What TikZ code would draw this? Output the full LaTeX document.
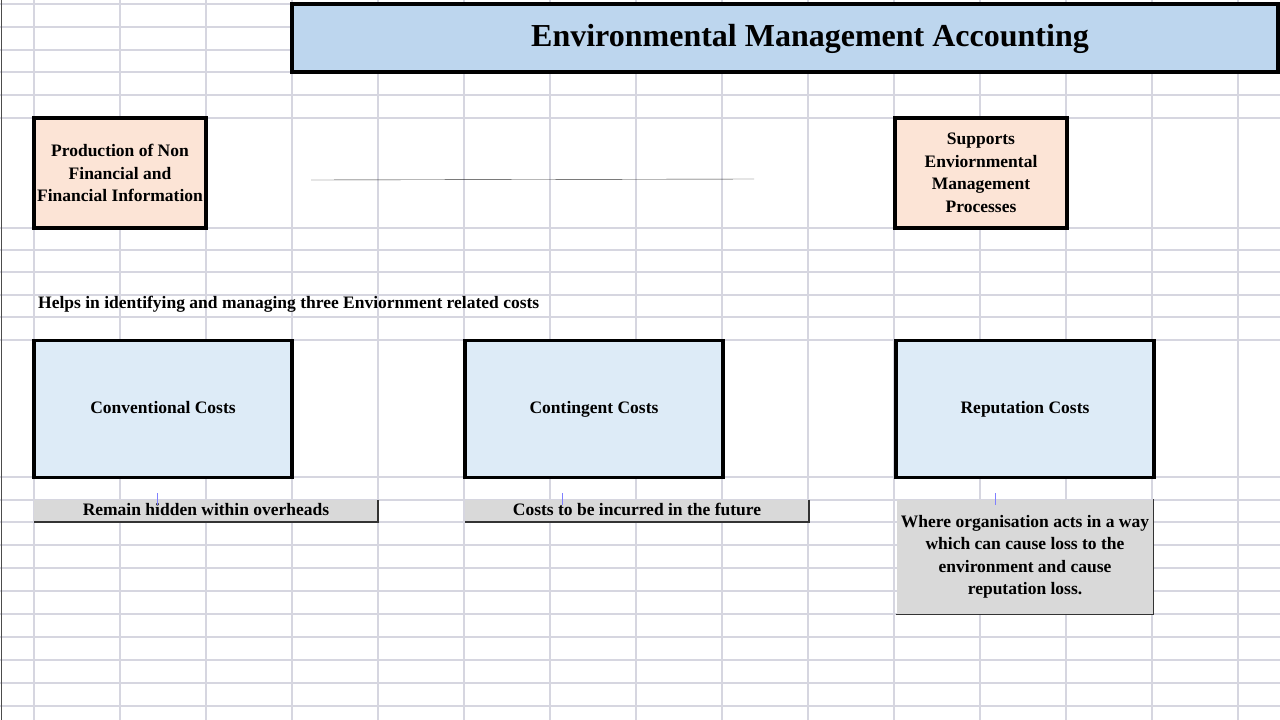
\documentclass[tikz,border=0pt]{standalone}
\usepackage{fontspec}
\setmainfont{Liberation Serif}
\usetikzlibrary{calc}
\definecolor{titleBlue}{RGB}{189,214,238}
\definecolor{costBlue}{RGB}{221,235,247}
\definecolor{rolePink}{RGB}{252,228,214}
\definecolor{noteGrey}{RGB}{217,217,217}
\definecolor{gridGrey}{RGB}{214,214,224}
\tikzset{
	cell/.style = {draw = black, line width = 3.5pt, inner sep = 0pt, font = \bfseries\fontsize{17.5}{22.5}\selectfont, align = center},
	note/.style = {fill = noteGrey, inner sep = 0pt, font = \bfseries\fontsize{17.5}{22.5}\selectfont, align = center}
}
\begin{document}
\begin{tikzpicture}[x = 1pt, y = -1pt]
	\useasboundingbox (0,0) rectangle (1280,720);
	\fill [white] (0,0) rectangle (1280,720);

	% spreadsheet grid
	\foreach \gx in {34,120,...,1238} {
		\draw [gridGrey, line width = 1.5pt] (\gx,0) -- (\gx,720);
	}
	\foreach \gy in {4,27,50,72,95,118,228,250,272,295,317,340,477,500,522,545,568,591,614,637,660,683,706} {
		\draw [gridGrey, line width = 1.5pt] (0,\gy) -- (1280,\gy);
	}
	\draw [black!70, thin] (1,0) -- (1,720);

	% title
	\node [cell, fill = titleBlue, minimum width = 986pt, minimum height = 68pt] (title) at (785,38) {};
	\node [font = \bfseries\fontsize{32}{36}\selectfont, inner sep = 0pt] (titleText) at (810,39) {Environmental Management Accounting};

	% roles
	\node [cell, fill = rolePink, minimum width = 172pt, minimum height = 110pt] (production) at (120,173) {Production of Non\\Financial and\\Financial Information};
	\node [cell, fill = rolePink, minimum width = 172pt, minimum height = 110pt] (supports) at (981,173) {Supports\\Enviornmental\\Management\\Processes};
	\coordinate (lineStart) at (311,180);
	\coordinate (lineEnd) at (754,179);
	\draw [black!80, thin] (lineStart) -- (lineEnd);

	\node [anchor = west, font = \bfseries\fontsize{17.5}{21}\selectfont, inner sep = 0pt] (helps) at (38,304) {Helps in identifying and managing three Enviornment related costs};

	% three costs
	\foreach \cx/\cname/\ctext in {163/conventional/Conventional Costs, 594/contingent/Contingent Costs, 1025/reputation/Reputation Costs} {
		\node [cell, fill = costBlue, minimum width = 258pt, minimum height = 137pt, text height = 12pt, text depth = 4pt] (\cname) at (\cx,409) {\ctext};
	}

	% notes
	\node [note, minimum width = 344pt, minimum height = 22pt, text height = 12pt, text depth = 4pt] (hidden) at (206,511) {Remain hidden within overheads};
	\node [note, minimum width = 344pt, minimum height = 22pt, text height = 12pt, text depth = 4pt] (future) at (637,511) {Costs to be incurred in the future};
	\node [note, minimum width = 257pt, minimum height = 115pt] (loss) at (1025,557) {Where organisation acts in a way\\which can cause loss to the\\environment and cause\\reputation loss.};
	\foreach \n in {hidden, future, loss} {
		\draw [black!80, line width = 1.5pt] (\n.north east) -- (\n.south east) -- (\n.south west);
	}

	% small ticks
	\foreach \tx in {157,562,995} {
		\draw [blue!50, thin] (\tx,493) -- (\tx,505);
	}
\end{tikzpicture}
\end{document}
